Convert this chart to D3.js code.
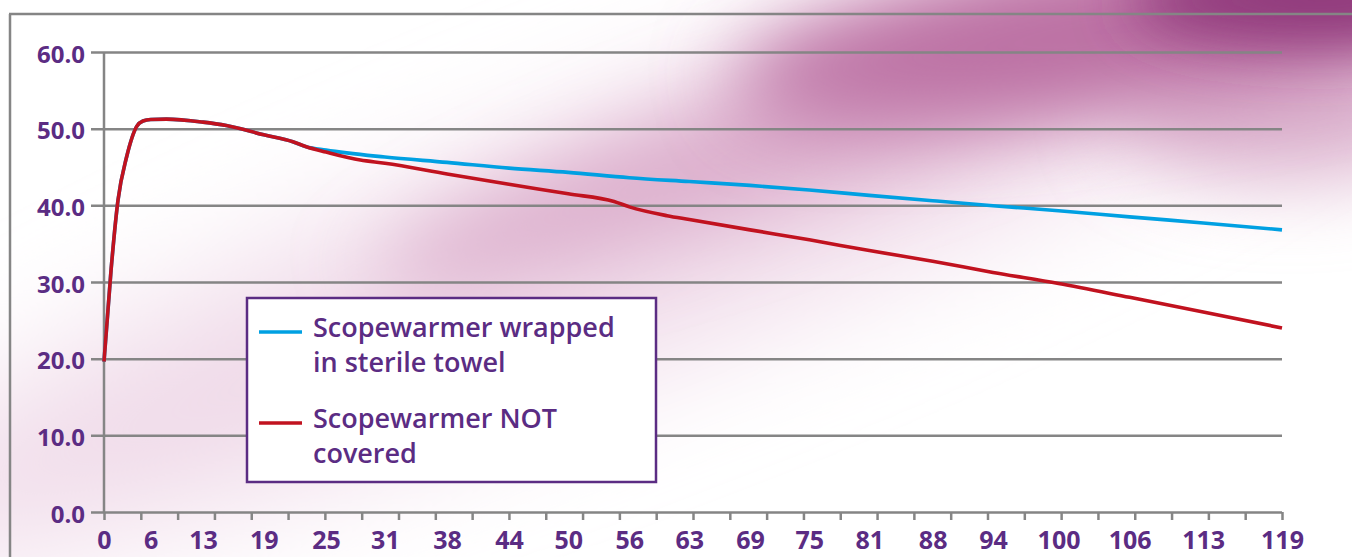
<!DOCTYPE html>
<html>
<head>
<meta charset="utf-8">
<script src="https://cdn.jsdelivr.net/npm/d3@7"></script>
<style>
    html, body { margin: 0; padding: 0; background: #fff; }
    svg { display: block; font-family: "Open Sans", sans-serif; }
</style>
</head>
<body>
<div id="chart"></div>
<script>
// x axis: minute labels and where each sits, in tick-interval units (32 intervals)
const minuteLabels = [0, 6, 13, 19, 25, 31, 38, 44, 50, 56, 63, 69, 75, 81, 88, 94, 100, 106, 113, 119];
const labelAt = [0, 1.27, 2.69, 4.34, 6.03, 7.63, 9.32, 11.0, 12.61, 14.27, 15.9, 17.55, 19.16, 20.79, 22.51, 24.15, 25.93, 27.86, 29.86, 32];
const tickCount = 32;
const yTicks = [0, 10, 20, 30, 40, 50, 60];

// shared warm-up part of both curves (minutes, degrees)
const warmupMinutes = [0, 0.9, 1.8, 2.9, 4.2, 5.0, 6, 8.1, 13, 15.3, 19, 21.8, 23.1];
const warmupTemp = [19.6, 31.5, 40.7, 46.3, 50.3, 51.0, 51.2, 51.25, 50.85, 50.4, 49.2, 48.3, 47.65];

const wrappedMinutes = [25, 31, 38, 44, 50, 56, 63, 69, 75, 81, 88, 94, 100, 106, 113, 119];
const wrappedTemp = [47.2, 46.3, 45.6, 44.85, 44.3, 43.6, 43.1, 42.6, 42.0, 41.3, 40.6, 39.95, 39.3, 38.5, 37.7, 36.8];

const uncoveredMinutes = [25, 28.5, 31, 38, 44, 50, 54.5, 56, 60.4, 63, 69, 75, 81, 88, 94, 100, 106, 113, 119];
const uncoveredTemp = [46.95, 45.9, 45.5, 44.1, 42.75, 41.5, 40.5, 39.8, 38.65, 38.15, 36.8, 35.5, 34.1, 32.7, 31.25, 29.8, 28.0, 26.1, 24.0];

const seriesNames = [["Scopewarmer wrapped", "in sterile towel"], ["Scopewarmer NOT", "covered"]];
const seriesColors = ["#00a0e2", "#c1121f"];

const width = 1352, height = 557;
const margin = { top: 52, right: 70, bottom: 45, left: 104 };
const purple = "#5b2c83";
const grey = "#858585";
const font = "'Open Sans', sans-serif";

const svg = d3.select("#chart").append("svg")
    .attr("width", width)
    .attr("height", height);

// soft magenta sweep in the background
const defs = svg.append("defs");
[["blurBig", 65], ["blurMid", 40], ["blurSmall", 28]].forEach(([id, s]) => {
    defs.append("filter").attr("id", id)
        .attr("filterUnits", "userSpaceOnUse")
        .attr("x", -600).attr("y", -600).attr("width", 2600).attr("height", 1800)
        .append("feGaussianBlur").attr("stdDeviation", s);
});

const bg = svg.append("g");
bg.append("ellipse")
    .attr("cx", 640).attr("cy", 235).attr("rx", 850).attr("ry", 120)
    .attr("transform", "rotate(-21 640 235)")
    .attr("fill", "#efd9e8").attr("filter", "url(#blurBig)");
bg.append("ellipse")
    .attr("cx", 850).attr("cy", 115).attr("rx", 500).attr("ry", 60)
    .attr("transform", "rotate(-19 850 115)")
    .attr("fill", "#dcaecc").attr("filter", "url(#blurMid)");
bg.append("ellipse")
    .attr("cx", 1290).attr("cy", 110).attr("rx", 170).attr("ry", 70)
    .attr("fill", "#dcb2ce").attr("filter", "url(#blurMid)");
bg.append("ellipse")
    .attr("cx", 1150).attr("cy", 25).attr("rx", 420).attr("ry", 75)
    .attr("transform", "rotate(-8 1150 25)")
    .attr("fill", "#bb70a3").attr("filter", "url(#blurMid)");
bg.append("ellipse")
    .attr("cx", 1320).attr("cy", 0).attr("rx", 190).attr("ry", 45)
    .attr("fill", "#8f377a").attr("filter", "url(#blurSmall)");

// outer frame
svg.append("line")
    .attr("x1", 9).attr("x2", width).attr("y1", 14).attr("y2", 14)
    .attr("stroke", grey).attr("stroke-width", 2.5);
svg.append("line")
    .attr("x1", 10).attr("x2", 10).attr("y1", 14).attr("y2", height)
    .attr("stroke", grey).attr("stroke-width", 2.5);

const plotW = width - margin.left - margin.right;
const plotH = height - margin.top - margin.bottom;
const g = svg.append("g").attr("transform", `translate(${margin.left},${margin.top})`);

const xTick = d3.scaleLinear().domain([0, tickCount]).range([0, plotW]);
const x = d3.scaleLinear().domain(minuteLabels).range(labelAt.map(xTick));
const y = d3.scaleLinear().domain([0, 60]).range([plotH, 0]);

// horizontal grid with left tick stubs
const yAxis = g.append("g")
    .call(d3.axisLeft(y).tickValues(yTicks).tickSize(-plotW).tickPadding(19).tickFormat(d3.format(".1f")))
    .attr("font-family", font).attr("font-size", 24).attr("font-weight", 700);
yAxis.select(".domain").remove();
yAxis.selectAll(".tick line")
    .attr("x1", -13)
    .attr("stroke", grey).attr("stroke-width", 2.5);
yAxis.selectAll(".tick text")
    .attr("fill", purple)
    .attr("dy", "0.42em");

// y axis line
g.append("line")
    .attr("x1", 0).attr("x2", 0).attr("y1", 0).attr("y2", plotH)
    .attr("stroke", grey).attr("stroke-width", 2.5);

// x ticks
const xAxis = g.append("g")
    .attr("transform", `translate(0,${plotH})`)
    .call(d3.axisBottom(xTick).ticks(tickCount).tickSize(8).tickFormat(""));
xAxis.select(".domain").remove();
xAxis.selectAll(".tick line").attr("stroke", grey).attr("stroke-width", 2.5);

// x labels
const xLabels = g.append("g")
    .attr("transform", `translate(0,${plotH})`)
    .call(d3.axisBottom(x).tickValues(minuteLabels).tickSize(0).tickPadding(19).tickFormat(d3.format("d")))
    .attr("font-family", font).attr("font-size", 25).attr("font-weight", 700);
xLabels.select(".domain").remove();
xLabels.selectAll(".tick text").attr("fill", purple);

// series
const warmup = warmupMinutes.map((m, i) => [m, warmupTemp[i]]);
const wrapped = warmup.concat(wrappedMinutes.map((m, i) => [m, wrappedTemp[i]]));
const uncovered = warmup.concat(uncoveredMinutes.map((m, i) => [m, uncoveredTemp[i]]));

const line = d3.line()
    .x(d => x(d[0]))
    .y(d => y(d[1]))
    .curve(d3.curveMonotoneX);

[wrapped, uncovered].forEach((s, i) => {
    g.append("path")
        .attr("d", line(s))
        .attr("fill", "none")
        .attr("stroke", seriesColors[i])
        .attr("stroke-width", 3.6)
        .attr("stroke-linejoin", "round");
});

// legend
const legend = svg.append("g").attr("transform", "translate(247,298)");
legend.append("rect")
    .attr("width", 409).attr("height", 184)
    .attr("fill", "#fff")
    .attr("stroke", purple).attr("stroke-width", 2.5);

seriesNames.forEach((lines, i) => {
    const top = 38 + i * 91;
    legend.append("line")
        .attr("x1", 12).attr("x2", 55)
        .attr("y1", top - 4).attr("y2", top - 4)
        .attr("stroke", seriesColors[i]).attr("stroke-width", 3.5);
    const t = legend.append("text")
        .attr("x", 66).attr("y", top + 1)
        .attr("fill", purple)
        .attr("font-size", 27).attr("font-weight", 600);
    lines.forEach((l, j) => {
        t.append("tspan").attr("x", 66).attr("dy", j ? 35 : 0).text(l);
    });
});
</script>
</body>
</html>
